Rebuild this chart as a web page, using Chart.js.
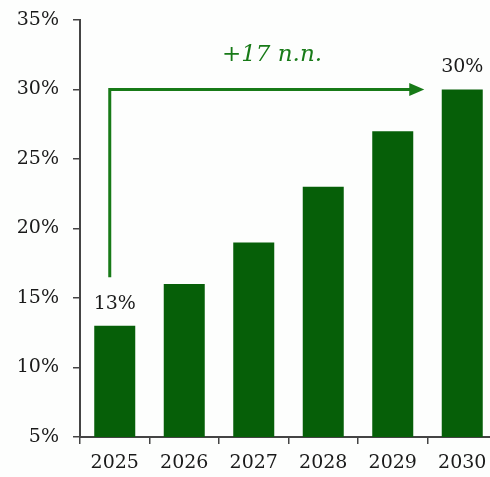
<!DOCTYPE html>
<html>
<head>
<meta charset="utf-8">
<script src="https://cdn.jsdelivr.net/npm/chart.js@4/dist/chart.umd.min.js"></script>
<style>
  html, body { margin: 0; padding: 0; background: #fdfefd; overflow: hidden; }
  canvas { display: block; }
</style>
</head>
<body>
<canvas id="chart" width="500" height="477"></canvas>
<script>
const years = ['2025', '2026', '2027', '2028', '2029', '2030'];
const shares = [13, 16, 19, 23, 27, 30];
const labelled = [0, 5];
const yTicks = { min: 5, max: 35, step: 5 };
const growthText = '+17 п.п.';

const FONT = '"DejaVu Serif", serif';
const BAR_GREEN = '#065f08';
const ARROW_GREEN = '#177a17';
const AXIS = '#444';

const overlay = {
    id: 'overlay',
    afterDatasetsDraw(chart) {
        const { ctx, scales: { x, y } } = chart;
        const meta = chart.getDatasetMeta(0);

        // value labels over first and last bar
        ctx.save();
        ctx.fillStyle = '#1a1a1a';
        ctx.font = '19px ' + FONT;
        ctx.textAlign = 'center';
        ctx.textBaseline = 'middle';
        labelled.forEach(i => {
            const bar = meta.data[i];
            ctx.fillText(shares[i] + '%', bar.x, bar.y - 22);
        });

        // arrow: from first bar up to last level, then right
        const x0 = x.getPixelForValue(0) - 5;
        const yBottom = y.getPixelForValue(16.5);
        const yTop = y.getPixelForValue(shares[shares.length - 1]);
        const xTip = x.getPixelForValue(years.length - 1) - 38;
        ctx.strokeStyle = ARROW_GREEN;
        ctx.fillStyle = ARROW_GREEN;
        ctx.lineWidth = 3;
        ctx.beginPath();
        ctx.moveTo(x0, yBottom);
        ctx.lineTo(x0, yTop);
        ctx.lineTo(xTip - 14, yTop);
        ctx.stroke();
        ctx.beginPath();
        ctx.moveTo(xTip, yTop);
        ctx.lineTo(xTip - 15, yTop - 6.5);
        ctx.lineTo(xTip - 15, yTop + 6.5);
        ctx.closePath();
        ctx.fill();

        ctx.font = 'italic 23px ' + FONT;
        ctx.fillText(growthText, 272, 55);
        ctx.restore();
    }
};

new Chart(document.getElementById('chart'), {
    type: 'bar',
    data: {
        labels: years,
        datasets: [{
            data: shares,
            backgroundColor: BAR_GREEN,
            barPercentage: 0.59,
            categoryPercentage: 1
        }]
    },
    options: {
        responsive: false,
        animation: false,
        layout: { padding: { top: 20, right: 3, left: 0, bottom: 0 } },
        plugins: { legend: { display: false }, tooltip: { enabled: false } },
        scales: {
            x: {
                grid: { drawOnChartArea: false, tickLength: 7, color: AXIS, lineWidth: 1.5 },
                border: { color: AXIS, width: 2 },
                ticks: { color: '#1a1a1a', font: { family: FONT, size: 19 }, padding: 8 },
                afterFit(scale) { scale.height = 40; }
            },
            y: {
                min: yTicks.min,
                max: yTicks.max,
                grid: { drawOnChartArea: false, tickLength: 7, color: AXIS, lineWidth: 1.5 },
                border: { color: AXIS, width: 2 },
                ticks: {
                    stepSize: yTicks.step,
                    color: '#1a1a1a',
                    font: { family: FONT, size: 19 },
                    padding: 14,
                    callback: v => v + '%'
                },
                afterFit(scale) {
                    scale.width = 80;
                    scale.paddingTop = 0;
                    scale.paddingBottom = 0;
                }
            }
        }
    },
    plugins: [overlay]
});
</script>
</body>
</html>
